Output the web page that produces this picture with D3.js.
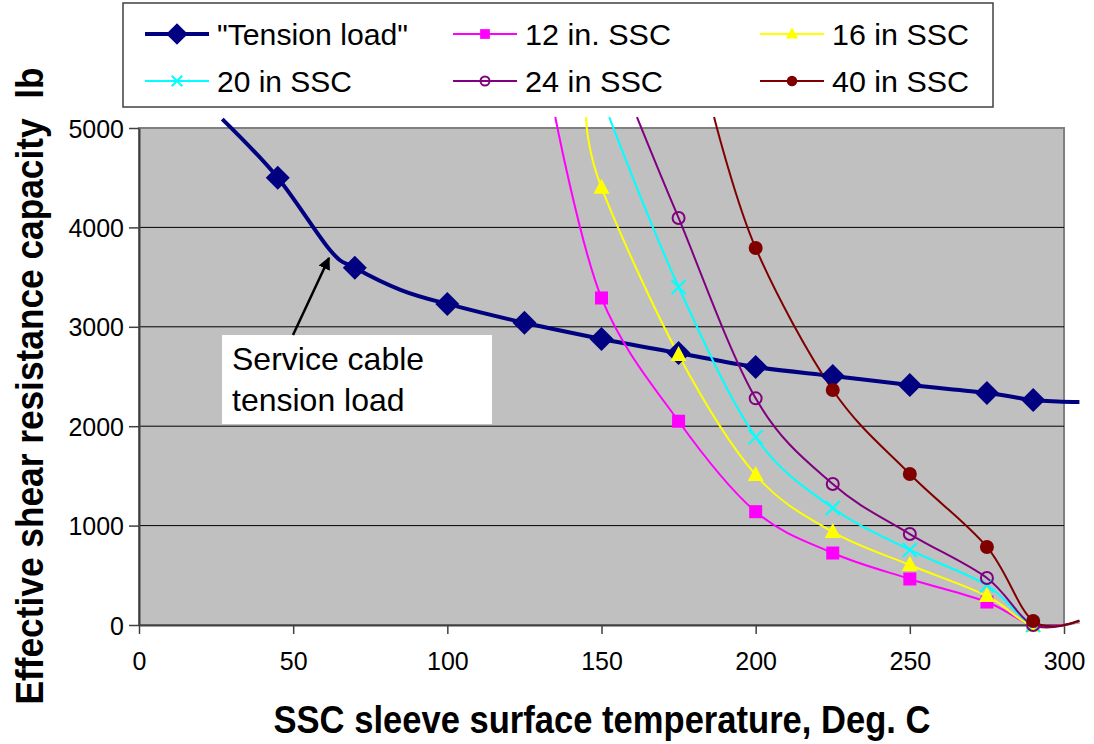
<!DOCTYPE html>
<html>
<head>
<style>
body { margin: 0; background: #fff; }
text { font-family: "Liberation Sans", Arial, sans-serif; fill: #000; }
</style>
</head>
<body>
<div id="chart"></div>
<script src="https://cdn.jsdelivr.net/npm/d3@7"></script>
<script>
// data
var tensionTemps = [27, 45, 62, 70, 85, 100, 125, 150, 175, 200, 225, 250, 275, 290, 298, 305];
var tensionLoad  = [5090, 4500, 3770, 3595, 3370, 3230, 3040, 2878, 2736, 2596, 2505, 2414, 2334, 2263, 2248, 2243];
var tensionMarked = [45, 70, 100, 125, 150, 175, 200, 225, 250, 275, 290];

var sscMarked = [150, 175, 200, 225, 250, 275, 290];
var ssc12Temps = [135, 150, 175, 200, 225, 250, 275, 290, 305];
var ssc12Vals  = [5110, 3290, 2050, 1140, 724, 463, 231, 0, 25];
var ssc16Temps = [145, 150, 175, 200, 225, 250, 275, 290, 305];
var ssc16Vals  = [5110, 4400, 2716, 1510, 936, 604, 292, -10, 30];
var ssc20Temps = [152.5, 175, 200, 225, 250, 275, 290, 305];
var ssc20Vals  = [5110, 3400, 1890, 1177, 755, 400, 0, 35];
var ssc24Temps = [161.5, 175, 200, 225, 250, 275, 290, 305];
var ssc24Vals  = [5110, 4095, 2280, 1418, 915, 473, 0, 40];
var ssc40Temps = [186.5, 200, 225, 250, 275, 290, 305];
var ssc40Vals  = [5110, 3793, 2364, 1519, 785, 40, 45];

var xTicks = [0, 50, 100, 150, 200, 250, 300];
var yTicks = [0, 1000, 2000, 3000, 4000, 5000];

var series = [
  {name: '"Tension load"', temps: tensionTemps, vals: tensionLoad, marked: tensionMarked, color: "#000080", width: 4, marker: "diamond", legW: 191},
  {name: "12 in. SSC", temps: ssc12Temps, vals: ssc12Vals, marked: sscMarked, color: "#FF00FF", width: 2, marker: "square", legW: 146},
  {name: "16 in SSC", temps: ssc16Temps, vals: ssc16Vals, marked: sscMarked, color: "#FFFF00", width: 2, marker: "triangle", legW: 137},
  {name: "20 in SSC", temps: ssc20Temps, vals: ssc20Vals, marked: sscMarked, color: "#00FFFF", width: 2, marker: "x", legW: 135},
  {name: "24 in SSC", temps: ssc24Temps, vals: ssc24Vals, marked: sscMarked, color: "#800080", width: 2, marker: "circle", legW: 138},
  {name: "40 in SSC", temps: ssc40Temps, vals: ssc40Vals, marked: sscMarked, color: "#800000", width: 2, marker: "dot", legW: 137}
];

var width = 1094, height = 744;
var plot = {left: 139, right: 1064, top: 128, bottom: 625};

var svg = d3.select("#chart").append("svg")
  .attr("width", width).attr("height", height);

var x = d3.scaleLinear().domain([0, 300]).range([plot.left, plot.right]);
var y = d3.scaleLinear().domain([0, 5000]).range([plot.bottom, plot.top]);

// plot area
svg.append("rect")
  .attr("x", plot.left).attr("y", plot.top)
  .attr("width", plot.right - plot.left).attr("height", plot.bottom - plot.top)
  .attr("fill", "#C0C0C0").attr("stroke", "#808080").attr("stroke-width", 2);

// grid
svg.selectAll(".grid").data(yTicks.filter(d => d > 0 && d < 5000))
  .enter().append("line")
  .attr("x1", plot.left).attr("x2", plot.right)
  .attr("y1", d => y(d)).attr("y2", d => y(d))
  .attr("stroke", "#000").attr("stroke-width", 1);

// axes
var xAxis = d3.axisBottom(x).tickValues(xTicks).tickFormat(d3.format("d")).tickSize(9).tickSizeOuter(0).tickPadding(18);
var yAxis = d3.axisLeft(y).tickValues(yTicks).tickFormat(d3.format("d")).tickSize(10).tickSizeOuter(0).tickPadding(5);

var gx = svg.append("g").attr("transform", `translate(0,${plot.bottom})`).call(xAxis);
var gy = svg.append("g").attr("transform", `translate(${plot.left},0)`).call(yAxis);
[gx, gy].forEach(g => {
  g.select(".domain").attr("stroke", "#404040").attr("stroke-width", 2);
  g.selectAll(".tick line").attr("stroke", "#404040").attr("stroke-width", 1.5);
  g.selectAll("text").style("font-family", "Liberation Sans, Arial, sans-serif")
    .style("font-size", "25px").attr("fill", "#000");
});
gy.selectAll("text").attr("dy", "0.36em");

// lines
var line = d3.line().x(d => x(d[0])).y(d => y(d[1])).curve(d3.curveCardinal);

function markerPath(g, type, color, s) {
  if (type === "diamond") {
    g.append("path").attr("d", `M0,${-12*s}L${12*s},0L0,${12*s}L${-12*s},0Z`).attr("fill", color);
  } else if (type === "square") {
    g.append("rect").attr("x", -6.5*s).attr("y", -6.5*s).attr("width", 13*s).attr("height", 13*s).attr("fill", color);
  } else if (type === "triangle") {
    g.append("path").attr("d", `M0,${-9*s}L${8*s},${6*s}L${-8*s},${6*s}Z`).attr("fill", color);
  } else if (type === "x") {
    g.append("path").attr("d", `M${-7*s},${-7*s}L${7*s},${7*s}M${7*s},${-7*s}L${-7*s},${7*s}`)
      .attr("stroke", color).attr("stroke-width", 2).attr("fill", "none");
  } else if (type === "circle") {
    g.append("circle").attr("r", 6*s).attr("fill", "none").attr("stroke", color).attr("stroke-width", 2);
  } else if (type === "dot") {
    g.append("circle").attr("r", 7*s).attr("fill", color);
  }
}

series.forEach(s => {
  var pts = s.temps.map((t, j) => [t, s.vals[j]]);
  svg.append("path").datum(pts)
    .attr("d", line).attr("fill", "none")
    .attr("stroke", s.color).attr("stroke-width", s.width);
});
series.forEach(s => {
  s.temps.forEach((t, j) => {
    if (s.marked.indexOf(t) < 0) return;
    var g = svg.append("g").attr("transform", `translate(${x(t)},${y(s.vals[j])})`);
    markerPath(g, s.marker, s.color, 1);
  });
});

// legend
var leg = svg.append("g");
leg.append("rect").attr("x", 123).attr("y", 3).attr("width", 870).attr("height", 104)
  .attr("fill", "#fff").attr("stroke", "#404040").attr("stroke-width", 1.5);
var colX = [145, 453, 760], rowY = [34, 81];
series.forEach((s, i) => {
  var cx = colX[i % 3], cy = rowY[Math.floor(i / 3)];
  leg.append("line").attr("x1", cx).attr("x2", cx + 64).attr("y1", cy).attr("y2", cy)
    .attr("stroke", s.color).attr("stroke-width", s.width);
  var g = leg.append("g").attr("transform", `translate(${cx + 32},${cy})`);
  markerPath(g, s.marker, s.color, s.marker === "diamond" ? 0.9 : 0.75);
  leg.append("text").attr("x", cx + 72).attr("y", cy + 11)
    .attr("textLength", s.legW).attr("lengthAdjust", "spacingAndGlyphs")
    .style("font-size", "30px").text(s.name);
});

// annotation
svg.append("rect").attr("x", 222).attr("y", 335).attr("width", 270).attr("height", 89).attr("fill", "#fff");
svg.append("text").attr("x", 232).attr("y", 370).style("font-size", "32px").text("Service cable");
svg.append("text").attr("x", 232).attr("y", 411).style("font-size", "32px").text("tension load");
svg.append("defs").append("marker").attr("id", "arrow")
  .attr("viewBox", "0 0 10 10").attr("refX", 9).attr("refY", 5)
  .attr("markerWidth", 5).attr("markerHeight", 5).attr("orient", "auto")
  .append("path").attr("d", "M0,0L10,5L0,10Z").attr("fill", "#000");
svg.append("line").attr("x1", 293).attr("y1", 335).attr("x2", 329).attr("y2", 258)
  .attr("stroke", "#000").attr("stroke-width", 2.5).attr("marker-end", "url(#arrow)");

// axis titles
svg.append("text").attr("x", 602).attr("y", 733).attr("text-anchor", "middle")
  .attr("textLength", 657).attr("lengthAdjust", "spacingAndGlyphs")
  .style("font-size", "38px").style("font-weight", "bold")
  .text("SSC sleeve surface temperature, Deg. C");
svg.append("text").attr("transform", "translate(43,386) rotate(-90)").attr("text-anchor", "middle")
  .attr("textLength", 637).attr("lengthAdjust", "spacingAndGlyphs")
  .style("font-size", "38px").style("font-weight", "bold")
  .text("Effective shear resistance capacity\u00a0 lb");
</script>
</body>
</html>
